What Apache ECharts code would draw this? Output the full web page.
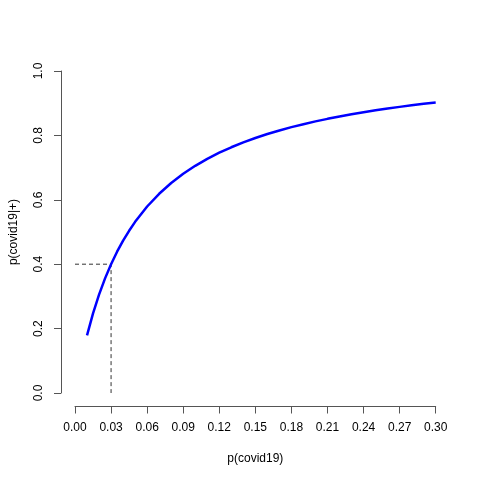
<!DOCTYPE html>
<html>
<head>
<meta charset="utf-8">
<script src="https://cdn.jsdelivr.net/npm/echarts@6/dist/echarts.min.js"></script>
<style>html,body{margin:0;padding:0;background:#fff;}#c{width:480px;height:480px;}</style>
</head>
<body>
<div id="c"></div>
<script>
const prior = [0.01,0.015,0.02,0.025,0.03,0.035,0.04,0.045,0.05,0.06,0.07,0.08,0.09,0.10,0.11,0.12,0.13,0.14,0.15,0.16,0.17,0.18,0.19,0.20,0.21,0.22,0.23,0.24,0.25,0.26,0.27,0.28,0.29,0.30];
const posterior = [0.1788,0.2472,0.3056,0.3560,0.4000,0.4388,0.4732,0.5038,0.5316,0.5792,0.6187,0.6522,0.6807,0.7055,0.7271,0.7462,0.7631,0.7783,0.7919,0.8042,0.8154,0.8256,0.8349,0.8435,0.8514,0.8588,0.8656,0.8719,0.8779,0.8834,0.8886,0.8934,0.8980,0.9023];
const guideX = [0, 0.03, 0.03];
const guideY = [0.4, 0.4, 0];

const chart = echarts.init(document.getElementById('c'), null, {renderer:'canvas'});
const axisCol = '#555';
const font = 'Liberation Sans, Arial, sans-serif';
chart.setOption({
  animation:false,
  backgroundColor:'#fff',
  grid:{left:73.3, right:44.3, top:71, bottom:87, containLabel:false},
  xAxis:{
    type:'value', min:0, max:0.3, interval:0.03, offset:13.5,
    name:'p(covid19)', nameLocation:'middle', nameGap:46,
    nameTextStyle:{color:'#000', fontSize:12, fontFamily:font},
    axisLine:{show:true, onZero:false, lineStyle:{color:axisCol, width:1}},
    axisTick:{show:true, length:7, lineStyle:{color:axisCol}},
    axisLabel:{color:'#000', fontSize:12, fontFamily:font, margin:15,
      formatter:v=>v.toFixed(2)},
    splitLine:{show:false}
  },
  yAxis:{
    type:'value', min:0, max:1, interval:0.2, offset:14,
    name:'p(covid19|+)', nameLocation:'middle', nameGap:41,
    nameTextStyle:{color:'#000', fontSize:12, fontFamily:font},
    axisLine:{show:true, onZero:false, lineStyle:{color:axisCol, width:1}},
    axisTick:{show:true, length:7, lineStyle:{color:axisCol}},
    axisLabel:{color:'#000', fontSize:12, fontFamily:font, margin:16, rotate:90,
      formatter:v=>v.toFixed(1)},
    splitLine:{show:false}
  },
  series:[
    {type:'line', data:prior.map((p,i)=>[p,posterior[i]]), showSymbol:false, smooth:false,
     lineStyle:{color:'#0000ff', width:2.5}, z:3},
    {type:'line', data:guideX.map((x,i)=>[x,guideY[i]]), showSymbol:false,
     lineStyle:{color:'#333', width:1, type:[4,3]}, z:2}
  ]
});
</script>
</body>
</html>
